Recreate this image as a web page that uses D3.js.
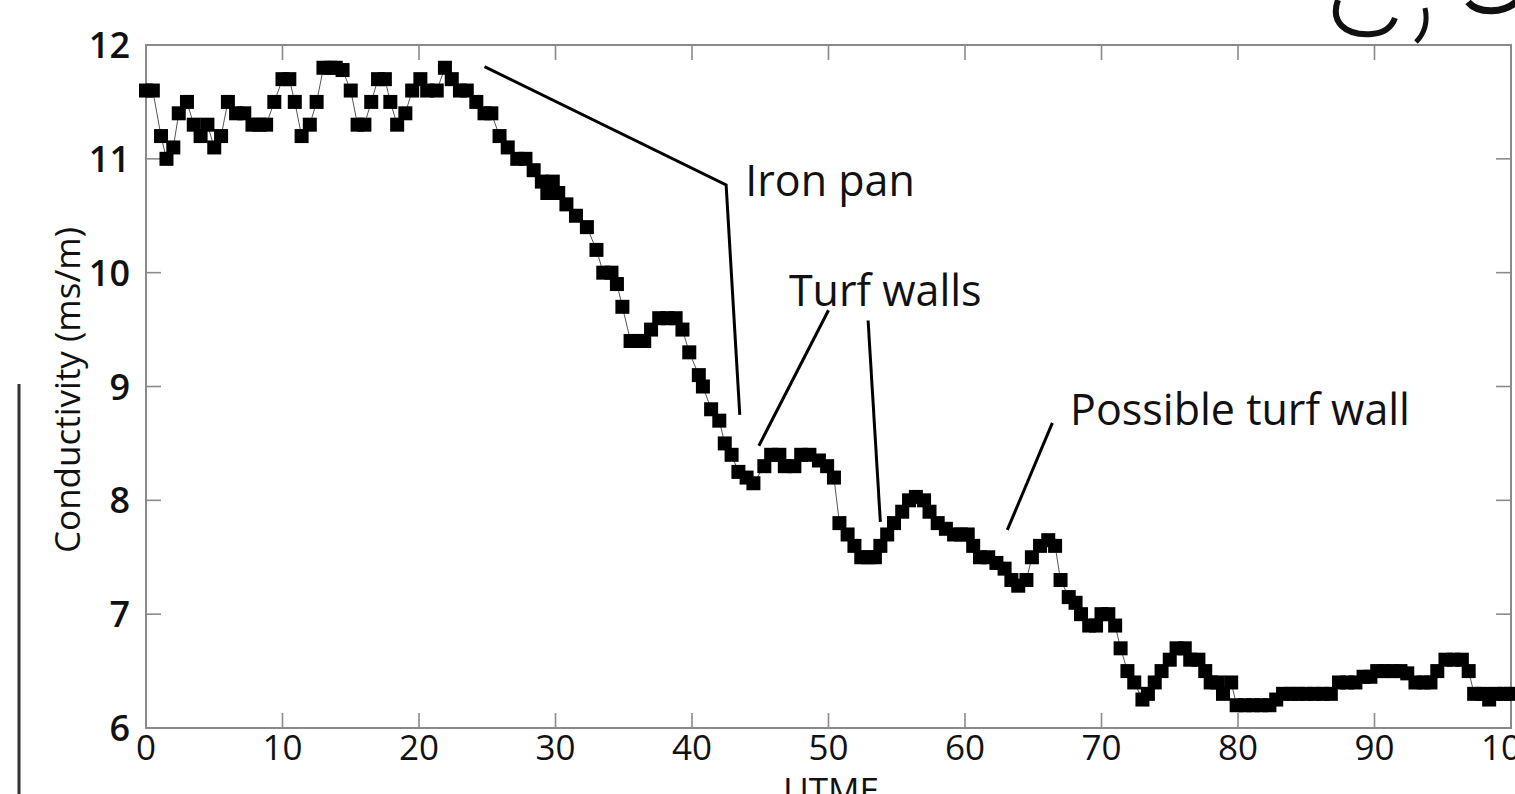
<!DOCTYPE html>
<html lang="en">
<head>
<meta charset="UTF-8">
<title>Conductivity profile</title>
<script src="https://d3js.org/d3.v7.min.js"></script>
<style>
  body { margin: 0; background: #fff; }
  svg { display: block; }
  text { font-family: "Open Sans", "DejaVu Sans", sans-serif; fill: #111; }
  .x-label { font-size: 35px; }
  .y-label { font-size: 36px; font-weight: 600; }
  .note { font-size: 43px; }
</style>
</head>
<body>
<div id="chart"></div>
<script>
// UTME positions and conductivity readings (ms/m)
const utme = [
  0.0, 0.5, 1.1, 1.5, 2.0, 2.4, 3.0, 3.5, 4.0, 4.5, 5.0, 5.5, 6.0, 6.6, 7.2, 7.8, 8.3, 8.8, 9.4, 10.0,
  10.5, 10.9, 11.4, 12.0, 12.5, 13.0, 13.5, 13.9, 14.4, 15.0, 15.5, 16.0, 16.5, 17.0, 17.5, 17.9, 18.4, 19.0, 19.5, 20.1,
  20.6, 21.3, 21.9, 22.4, 23.0, 23.5, 24.2, 24.8, 25.3, 25.9, 26.5, 27.2, 27.8, 28.4, 29.0, 29.4, 29.8, 30.2, 30.8, 31.5,
  32.3, 33.0, 33.5, 34.1, 34.5, 34.9, 35.5, 36.0, 36.5, 37.0, 37.6, 38.2, 38.8, 39.3, 39.8, 40.5, 40.8, 41.4, 42.0, 42.4,
  42.9, 43.4, 44.0, 44.5, 45.3, 45.8, 46.4, 46.8, 47.5, 48.0, 48.6, 49.3, 49.9, 50.4, 50.8, 51.4, 51.9, 52.4, 52.9, 53.4,
  53.8, 54.3, 54.8, 55.4, 55.9, 56.4, 57.0, 57.4, 58.0, 58.6, 59.2, 59.7, 60.2, 60.6, 61.1, 61.7, 62.3, 62.9, 63.4, 63.9,
  64.5, 64.9, 65.5, 66.1, 66.6, 67.0, 67.6, 68.1, 68.5, 69.1, 69.6, 70.0, 70.5, 71.0, 71.4, 71.9, 72.4, 73.0, 73.4, 73.9,
  74.4, 75.0, 75.5, 76.1, 76.5, 77.1, 77.6, 78.0, 78.5, 78.9, 79.5, 79.9, 80.5, 81.1, 81.7, 82.3, 82.8, 83.3, 83.9, 84.4,
  85.0, 85.6, 86.2, 86.8, 87.4, 88.0, 88.6, 89.2, 89.7, 90.2, 90.7, 91.3, 91.9, 92.4, 93.0, 93.6, 94.1, 94.6, 95.2, 95.8,
  96.4, 96.9, 97.3, 97.9, 98.4, 98.9, 99.5, 100.0
];
const conductivity = [
  11.6, 11.6, 11.2, 11.0, 11.1, 11.4, 11.5, 11.3, 11.2, 11.3, 11.1, 11.2, 11.5, 11.4, 11.4, 11.3, 11.3, 11.3, 11.5, 11.7,
  11.7, 11.5, 11.2, 11.3, 11.5, 11.8, 11.8, 11.8, 11.78, 11.6, 11.3, 11.3, 11.5, 11.7, 11.7, 11.5, 11.3, 11.4, 11.6, 11.7,
  11.6, 11.6, 11.8, 11.7, 11.6, 11.6, 11.5, 11.4, 11.4, 11.2, 11.1, 11.0, 11.0, 10.9, 10.8, 10.7, 10.8, 10.7, 10.6, 10.5,
  10.4, 10.2, 10.0, 10.0, 9.9, 9.7, 9.4, 9.4, 9.4, 9.5, 9.6, 9.6, 9.6, 9.5, 9.3, 9.1, 9.0, 8.8, 8.7, 8.5,
  8.4, 8.25, 8.2, 8.15, 8.3, 8.4, 8.4, 8.3, 8.3, 8.4, 8.4, 8.35, 8.3, 8.2, 7.8, 7.7, 7.6, 7.5, 7.5, 7.5,
  7.6, 7.7, 7.8, 7.9, 8.0, 8.03, 8.0, 7.9, 7.8, 7.75, 7.7, 7.7, 7.7, 7.6, 7.5, 7.5, 7.45, 7.4, 7.3, 7.25,
  7.3, 7.5, 7.6, 7.65, 7.6, 7.3, 7.15, 7.1, 7.0, 6.9, 6.9, 7.0, 7.0, 6.9, 6.7, 6.5, 6.4, 6.25, 6.3, 6.4,
  6.5, 6.6, 6.7, 6.7, 6.6, 6.6, 6.5, 6.4, 6.4, 6.3, 6.4, 6.2, 6.2, 6.2, 6.2, 6.2, 6.25, 6.3, 6.3, 6.3,
  6.3, 6.3, 6.3, 6.3, 6.4, 6.4, 6.4, 6.45, 6.45, 6.5, 6.5, 6.5, 6.5, 6.48, 6.4, 6.4, 6.4, 6.5, 6.6, 6.6,
  6.6, 6.5, 6.3, 6.3, 6.25, 6.3, 6.3, 6.3
];
const xTicks = [0, 10, 20, 30, 40, 50, 60, 70, 80, 90, 100];
const yTicks = [6, 7, 8, 9, 10, 11, 12];

// annotations: label, text anchor (data units) and leader polylines (data units)
const noteLabels = ["Iron pan", "Turf walls", "Possible turf wall"];
const noteAnchors = [[43.9, 10.67], [47.1, 9.71], [67.7, 8.66]];
const noteLeaders = [
  [[[24.8, 11.81], [42.5, 10.77], [43.5, 8.75]]],
  [[[50.0, 9.67], [44.9, 8.48]], [[52.9, 9.58], [53.8, 7.81]]],
  [[[66.4, 8.68], [63.1, 7.74]]]
];

const W = 1515, H = 794;
const svg = d3.select("#chart").append("svg").attr("width", W).attr("height", H);

const x = d3.scaleLinear().domain([0, 100]).range([146, 1511]);
const y = d3.scaleLinear().domain([6, 12]).range([728, 45]);

// stray marks from the scanned page
svg.append("line").attr("x1", 19).attr("x2", 19).attr("y1", 384).attr("y2", 794)
  .attr("stroke", "#333").attr("stroke-width", 3);
svg.append("path")
  .attr("d", "M1468,2 C1478,14 1505,14 1518,0")
  .attr("fill", "none").attr("stroke", "#111").attr("stroke-width", 7);
svg.append("path")
  .attr("d", "M1338,0 C1330,22 1345,36 1372,34 C1385,33 1392,26 1395,18")
  .attr("fill", "none").attr("stroke", "#111").attr("stroke-width", 6);
svg.append("path")
  .attr("d", "M1425,8 C1428,22 1424,34 1416,42")
  .attr("fill", "none").attr("stroke", "#111").attr("stroke-width", 5);

// frame
const [x0, x1] = x.range(), [y0, y1] = y.range();
svg.append("rect").attr("x", x0).attr("y", y1).attr("width", x1 - x0).attr("height", y0 - y1)
  .attr("fill", "none").attr("stroke", "#8a8a8a").attr("stroke-width", 2);

const tickLen = 15;
const gTicks = svg.append("g").attr("stroke", "#8a8a8a").attr("stroke-width", 1.6);
xTicks.slice(1, -1).forEach(t => {
  gTicks.append("line").attr("x1", x(t)).attr("x2", x(t)).attr("y1", y0).attr("y2", y0 - tickLen);
  gTicks.append("line").attr("x1", x(t)).attr("x2", x(t)).attr("y1", y1).attr("y2", y1 + tickLen);
});
yTicks.slice(1, -1).forEach(t => {
  gTicks.append("line").attr("x1", x0).attr("x2", x0 + tickLen).attr("y1", y(t)).attr("y2", y(t));
  gTicks.append("line").attr("x1", x1).attr("x2", x1 - tickLen).attr("y1", y(t)).attr("y2", y(t));
});

// tick labels
svg.append("g").selectAll("text").data(xTicks).join("text")
  .attr("class", "x-label")
  .attr("x", d => x(d)).attr("y", y0 + 32)
  .attr("text-anchor", "middle")
  .text(d => d);
svg.append("g").selectAll("text").data(yTicks).join("text")
  .attr("class", "y-label")
  .attr("x", 130).attr("y", d => y(d) + 13)
  .attr("text-anchor", "end")
  .text(d => d);

// axis titles
svg.append("text").attr("class", "x-label")
  .attr("transform", "translate(80,390) rotate(-90)")
  .attr("text-anchor", "middle")
  .text("Conductivity (ms/m)");
svg.append("text").attr("class", "x-label")
  .attr("x", 831).attr("y", 803).attr("text-anchor", "middle")
  .text("UTME");

// data: thin connecting line then square markers
const pts = utme.map((u, i) => [u, conductivity[i]]);
svg.append("path").datum(pts)
  .attr("fill", "none").attr("stroke", "#555").attr("stroke-width", 1)
  .attr("d", d3.line().x(d => x(d[0])).y(d => y(d[1])));
const sz = 14;
svg.append("g").selectAll("rect").data(pts).join("rect")
  .attr("x", d => x(d[0]) - sz / 2).attr("y", d => y(d[1]) - sz / 2)
  .attr("width", sz).attr("height", sz).attr("fill", "#000");

// annotations
const gNotes = svg.append("g");
noteLabels.forEach((label, i) => {
  noteLeaders[i].forEach(seg => {
    gNotes.append("path")
      .attr("d", d3.line().x(d => x(d[0])).y(d => y(d[1]))(seg))
      .attr("fill", "none").attr("stroke", "#000").attr("stroke-width", 3);
  });
  gNotes.append("text").attr("class", "note")
    .attr("x", x(noteAnchors[i][0])).attr("y", y(noteAnchors[i][1]))
    .text(label);
});
</script>
</body>
</html>
